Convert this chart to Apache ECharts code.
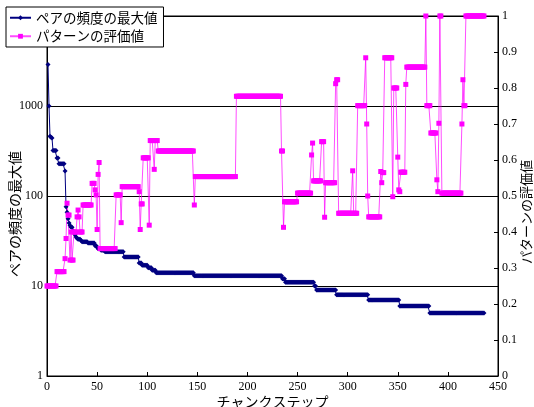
<!DOCTYPE html>
<html>
<head>
<meta charset="utf-8">
<script src="https://cdn.jsdelivr.net/npm/echarts@6/dist/echarts.min.js"></script>
<style>html,body{margin:0;padding:0;background:#fff}#c{width:534px;height:407px}</style>
</head>
<body>
<div id="c"></div>
<script>
// Series names
const seriesNames = ['ペアの頻度の最大値', 'パターンの評価値'];
// Step runs: [startStep, value] — value holds until next start
const freqRuns = [[1,2900],[2,1000],[3,460],[4,450],[5,440],[6,320],[10,265],[12,228],[18,190],[19,76],[20,66],[21,56],[22,50],[23,47],[24,45],[26,41],[27,39],[28,37],[29,35],[30,34],[31,33],[34,32],[35,31],[41,30],[48,28],[50,27],[51,26],[54,25],[58,24],[77,21],[92,18],[95,17],[101,16],[105,15],[109,14],[147,13],[235,12],[238,11],[267,10],[269,9],[289,8],[321,7],[352,6],[382,5]];
const scoreRuns = [[0,0.25],[10,0.29],[18,0.326],[19,0.382],[20,0.48],[21,0.447],[23,0.322],[24,0.40],[25,0.322],[27,0.40],[30,0.442],[31,0.461],[32,0.442],[33,0.40],[36,0.475],[45,0.535],[48,0.517],[49,0.503],[50,0.407],[51,0.56],[52,0.593],[53,0.354],[69,0.503],[74,0.426],[75,0.526],[92,0.512],[93,0.407],[94,0.478],[96,0.606],[102,0.419],[103,0.654],[107,0.574],[108,0.654],[111,0.625],[147,0.475],[148,0.554],[189,0.777],[234,0.625],[236,0.413],[237,0.484],[250,0.508],[264,0.614],[265,0.647],[266,0.542],[274,0.651],[277,0.441],[278,0.537],[288,0.812],[289,0.823],[291,0.452],[305,0.57],[306,0.452],[310,0.751],[318,0.884],[319,0.70],[320,0.50],[321,0.442],[333,0.568],[334,0.537],[335,0.565],[337,0.884],[345,0.498],[346,0.80],[350,0.608],[351,0.517],[352,0.512],[353,0.566],[358,0.81],[359,0.858],[378,1.0],[379,0.751],[383,0.675],[389,0.545],[390,0.512],[391,0.702],[392,1.0],[394,0.508],[414,0.70],[415,0.823],[416,0.751],[418,1.0]];
const lastStep = 436;
// Axis settings
const xMin = 0, xMax = 450, xInterval = 50;
const yLeftMin = 1, yLeftMax = 10000;
const yRightMin = 0, yRightMax = 1, yRightInterval = 0.1;

function expand(runs, end) {
  const out = [];
  for (let i = 0; i < runs.length; i++) {
    const s = runs[i][0];
    const e = i + 1 < runs.length ? runs[i + 1][0] - 1 : end;
    for (let k = s; k <= e; k++) out.push([k, runs[i][1]]);
  }
  return out;
}
const freqData = expand(freqRuns, lastStep);
const scoreData = expand(scoreRuns, lastStep);

const numFont = 'Liberation Serif';
const jpFont = 'Noto Sans CJK JP';

const chart = echarts.init(document.getElementById('c'), null, {renderer: 'canvas'});
chart.setOption({
  animation: false,
  backgroundColor: '#fff',
  grid: {left: 47, right: 36, top: 16, bottom: 31, show: true, borderColor: '#000', borderWidth: 1,
         containLabel: false, outerBoundsMode: 'none'},
  legend: {
    orient: 'vertical', left: 6, top: 7,
    backgroundColor: '#fff', borderColor: '#000', borderWidth: 1, borderRadius: 0,
    padding: [4, 6, 4, 3], itemWidth: 21, itemHeight: 6, itemGap: 5,
    textStyle: {fontFamily: jpFont, fontSize: 13.5, color: '#000'},
    data: seriesNames
  },
  xAxis: {
    type: 'value', min: xMin, max: xMax, interval: xInterval,
    axisLine: {lineStyle: {color: '#000', width: 1}},
    axisTick: {inside: true, length: 4, lineStyle: {color: '#000'}},
    splitLine: {show: false},
    axisLabel: {color: '#000', fontFamily: numFont, fontSize: 12, margin: 5},
    name: 'チャンクステップ', nameLocation: 'middle', nameGap: 19, nameMoveOverlap: false,
    nameTextStyle: {fontFamily: jpFont, fontSize: 14, color: '#000'}
  },
  yAxis: [{
    type: 'log', logBase: 10, min: yLeftMin, max: yLeftMax,
    axisLine: {show: true, lineStyle: {color: '#000', width: 1}},
    axisTick: {show: false},
    minorTick: {show: false},
    splitLine: {show: true, lineStyle: {color: '#000', width: 1}},
    axisLabel: {color: '#000', fontFamily: numFont, fontSize: 12, margin: 4,
      formatter: v => (v >= 10000 ? '' : String(v))},
    name: seriesNames[0], nameLocation: 'middle', nameGap: 25, nameRotate: 90, nameMoveOverlap: false,
    nameTextStyle: {fontFamily: jpFont, fontSize: 14, color: '#000', padding: [0, 36, 0, 0]}
  }, {
    type: 'value', position: 'right', min: yRightMin, max: yRightMax, interval: yRightInterval,
    axisLine: {show: true, lineStyle: {color: '#000', width: 1}},
    axisTick: {show: true, inside: true, length: 4, lineStyle: {color: '#000'}},
    splitLine: {show: false},
    axisLabel: {color: '#000', fontFamily: numFont, fontSize: 12, margin: 4},
    name: seriesNames[1], nameLocation: 'middle', nameGap: 22, nameRotate: 90, nameMoveOverlap: false,
    nameTextStyle: {fontFamily: jpFont, fontSize: 13, color: '#000', padding: [0, 32, 0, 0]}
  }],
  series: [{
    name: seriesNames[0], type: 'line', yAxisIndex: 0, data: freqData,
    symbol: 'diamond', symbolSize: 5, showAllSymbol: true,
    itemStyle: {color: '#000080'},
    lineStyle: {color: '#000080', width: 1}
  }, {
    name: seriesNames[1], type: 'line', yAxisIndex: 1, data: scoreData,
    symbol: 'rect', symbolSize: 5, showAllSymbol: true,
    itemStyle: {color: '#ff00ff'},
    lineStyle: {color: '#ff00ff', width: 1, opacity: 0.7}
  }]
});
</script>
</body>
</html>
